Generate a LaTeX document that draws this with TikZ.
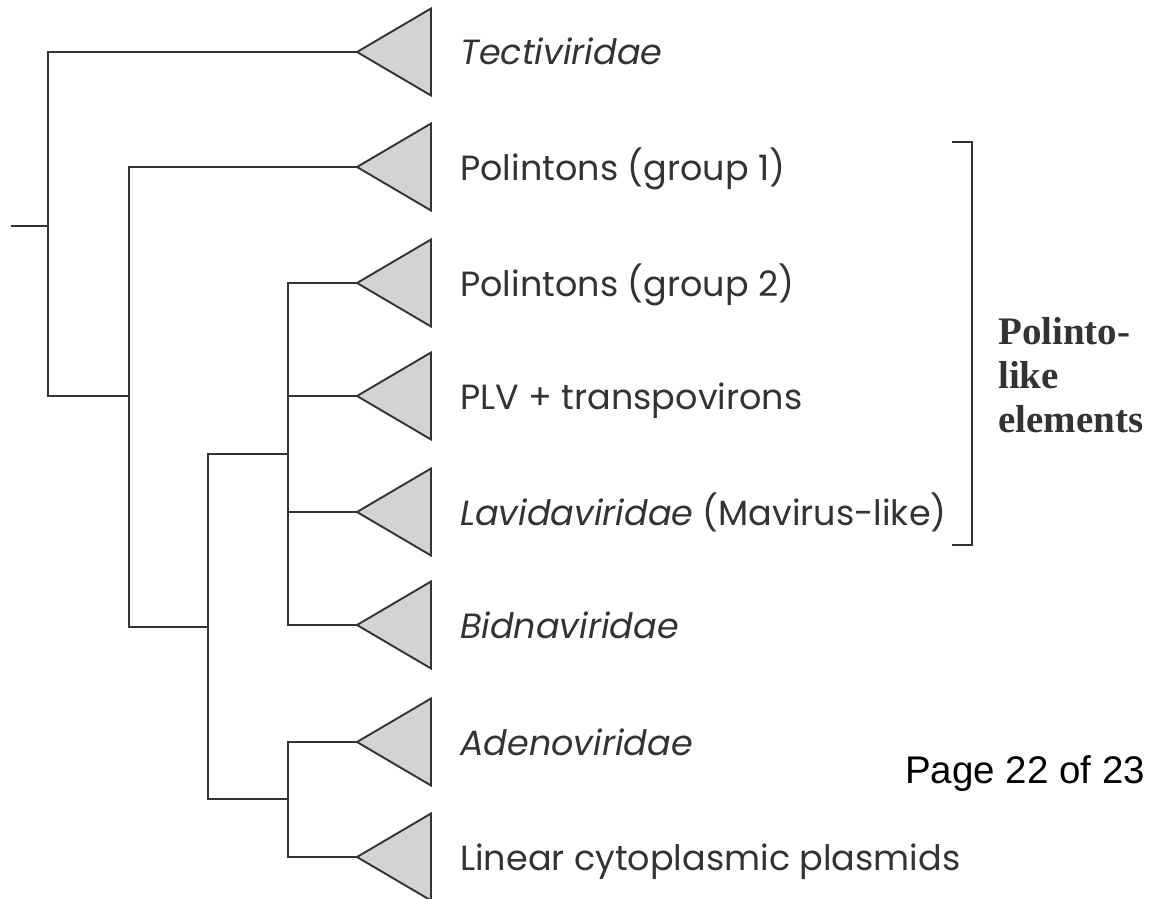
\documentclass[tikz,border=0pt]{standalone}
\usepackage{fontspec}
\newfontfamily\labfont{Poppins}
\newfontfamily\grpfont{Liberation Serif}
\newfontfamily\pagefont{Liberation Sans}
\definecolor{branch}{HTML}{333333}
\definecolor{cladefill}{HTML}{D1D3D4}
\tikzset{
  edge/.style={draw=branch,line width=1.9pt,line cap=rect},
  clade/.style={draw=branch,fill=cladefill,line width=1.9pt,line join=miter},
  taxon/.style={anchor=base west,inner sep=0pt,text=branch,font=\labfont\fontsize{35}{40}\selectfont},
}
\begin{document}
\begin{tikzpicture}[x=1pt,y=-1pt]
\useasboundingbox (0,0) rectangle (1157,899);
\coordinate (stub) at (12,226);
\coordinate (root) at (48,226);
\coordinate (nA) at (129,396);
\coordinate (nB) at (208,627);
\coordinate (nC) at (288,454);
\coordinate (nD) at (288,799);
\foreach \i/\y in {1/52,2/167,3/283,4/396,5/512,6/625,7/742,8/857}{
  \coordinate (t\i) at (357,\y);
  \draw[clade] (t\i) -- ++(74,-43.5) -- ++(0,87) -- cycle;
}
\draw[edge] (stub) -- (root);
\draw[edge] (root) |- (t1);
\draw[edge] (root) |- (nA);
\draw[edge] (nA) |- (t2);
\draw[edge] (nA) |- (nB);
\draw[edge] (nB) |- (nC);
\draw[edge] (nB) |- (nD);
\foreach \i in {3,4,5,6} \draw[edge] (nC) |- (t\i);
\foreach \i in {7,8} \draw[edge] (nD) |- (t\i);
\node[taxon] (lab1) at (460,65) {\itshape Tectiviridae};
\node[taxon] (lab2) at (460,180) {Polintons (group 1)};
\node[taxon] (lab3) at (460,296) {Polintons (group 2)};
\node[taxon] (lab4) at (460,409) {PLV + transpovirons};
\node[taxon] (lab5) at (460,525) {{\itshape Lavidaviridae} (Mavirus-like)};
\node[taxon] (lab6) at (460,638) {\itshape Bidnaviridae};
\node[taxon] (lab7) at (460,755) {\itshape Adenoviridae};
\node[taxon] (lab8) at (460,870) {Linear cytoplasmic plasmids};
\coordinate (brtop) at (952,142);
\coordinate (brbot) at (952,545);
\draw[draw=branch,line width=1.7pt] (brtop) -- ++(20,0) -- ++(0,403) -- (brbot);
\node[anchor=base west,inner sep=0pt,align=left,text=branch,font=\grpfont\bfseries\fontsize{39}{44}\selectfont] (group) at (998,432) {Polinto-\\like\\elements};
\node[anchor=base west,inner sep=0pt,font=\pagefont\fontsize{38.5}{44}\selectfont] (page) at (905,783) {Page 22 of 23};
\end{tikzpicture}
\end{document}
